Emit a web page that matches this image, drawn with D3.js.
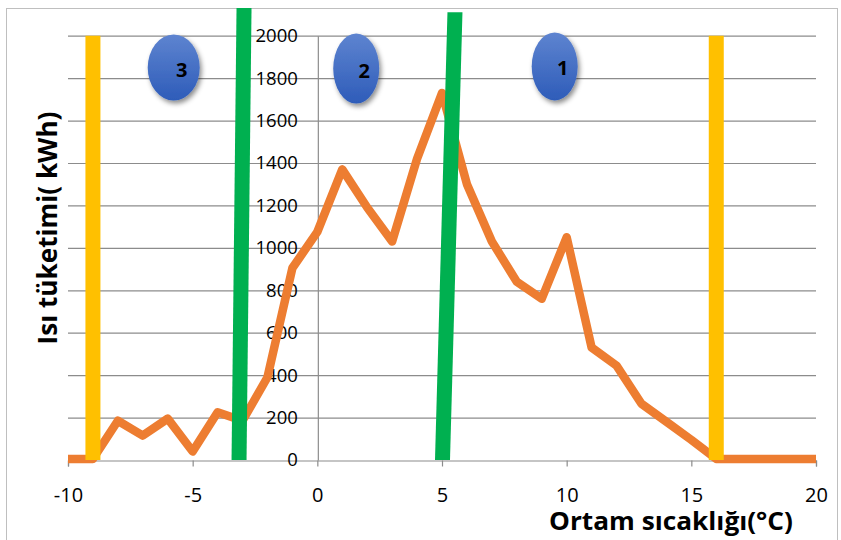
<!DOCTYPE html>
<html><head><meta charset="utf-8">
<script src="https://cdn.jsdelivr.net/npm/d3@7"></script>
<style>
html,body{margin:0;padding:0;background:#fff;}
svg{display:block;}
</style></head>
<body>
<svg id="chart" width="841" height="540"></svg>
<script>
// ---- data ----
const temps = [-10,-9,-8,-7,-6,-5,-4,-3,-2,-1,0,1,2,3,4,5,6,7,8,9,10,11,12,13,14,15,16,17,18,19,20];
const heat  = [5,5,185,115,195,40,225,185,390,905,1075,1370,1190,1030,1420,1730,1300,1030,840,760,1050,530,445,265,180,95,5,5,5,5,5];
const xTicks = [-10,-5,0,5,10,15,20];
const yTicks = [0,200,400,600,800,1000,1200,1400,1600,1800,2000];
const yellowLines = [-9, 16];
const greenLines = [ {x0:-3.14, x1:-2.94, top:2130}, {x0:5.02, x1:5.52, top:2110} ];
const regionLabels = [ {label:"3", x:-5.76, y:1850, rx:26, ry:33},
                       {label:"2", x:1.56,  y:1845, rx:23, ry:35},
                       {label:"1", x:9.52,  y:1855, rx:23, ry:34} ];
const xTitle = "Ortam sıcaklığı(°C)";
const yTitle = "Isı tüketimi( kWh)";

const svg = d3.select("#chart");
const x = d3.scaleLinear().domain([-10,20]).range([68,816]);
const y = d3.scaleLinear().domain([0,2000]).range([460,35.7]);

// border
svg.append("rect").attr("x",6.5).attr("y",8.5).attr("width",831).attr("height",560)
  .attr("fill","none").attr("stroke","#bfbfbf").attr("stroke-width",1);

const defs = svg.append("defs");
const grad = defs.append("linearGradient").attr("id","blueGrad").attr("x1",0).attr("y1",0).attr("x2",0).attr("y2",1);
grad.append("stop").attr("offset","0%").attr("stop-color","#5E84D0");
grad.append("stop").attr("offset","100%").attr("stop-color","#2E5CB9");
const filt = defs.append("filter").attr("id","shadow").attr("x","-50%").attr("y","-50%").attr("width","200%").attr("height","200%");
filt.append("feDropShadow").attr("dx",2).attr("dy",3).attr("stdDeviation",2.5).attr("flood-color","#000").attr("flood-opacity",0.45);

// gridlines
svg.append("g").selectAll("line").data(yTicks.filter(d=>d>0)).join("line")
  .attr("x1",x(-10)).attr("x2",x(20)).attr("y1",d=>y(d)+0.5).attr("y2",d=>y(d)+0.5)
  .attr("stroke","#8c8c8c").attr("stroke-width",1.2);

// x axis
const xAxis = d3.axisBottom(x).tickValues(xTicks).tickSize(6).tickFormat(d3.format("d"));
const gx = svg.append("g").attr("transform",`translate(0,${y(0)+0.5})`).call(xAxis);
gx.select(".domain").attr("stroke","#8c8c8c").attr("stroke-width",1.2);
gx.selectAll(".tick line").attr("stroke","#8c8c8c").attr("stroke-width",1.2);
gx.selectAll(".tick text").attr("font-family","'Open Sans', sans-serif").attr("font-size",20)
  .attr("fill","#000").attr("dy",0).attr("y",41).text(d=>String(d).replace("\u2212","-"));

// y axis at x=0
const yAxis = d3.axisLeft(y).tickValues(yTicks).tickSize(0).tickFormat(d3.format("d"));
const gy = svg.append("g").attr("transform",`translate(${x(0)+0.5},0)`).call(yAxis);
gy.select(".domain").attr("stroke","#8c8c8c").attr("stroke-width",1.2);
gy.selectAll(".tick text").attr("font-family","'Open Sans', sans-serif").attr("font-size",18.5)
  .attr("fill","#000").attr("x",-20);

// series
const line = d3.line().x((d,i)=>x(temps[i])).y(d=>y(d));
svg.append("path").datum(heat).attr("d",line).attr("fill","none")
  .attr("stroke","#ED7D31").attr("stroke-width",8.5).attr("stroke-linejoin","round");

// yellow lines
svg.append("g").selectAll("line").data(yellowLines).join("line")
  .attr("x1",d=>x(d)).attr("x2",d=>x(d)).attr("y1",y(0)).attr("y2",y(2000))
  .attr("stroke","#FFC000").attr("stroke-width",15);

// green lines
svg.append("g").selectAll("polygon").data(greenLines).join("polygon")
  .attr("points",d=>{const w=7.5;return [[x(d.x0)-w,y(0)],[x(d.x0)+w,y(0)],[x(d.x1)+w,y(d.top)],[x(d.x1)-w,y(d.top)]].map(p=>p.join(",")).join(" ");})
  .attr("fill","#00B050");

// region ellipses
const rg = svg.append("g").selectAll("g").data(regionLabels).join("g")
  .attr("transform",d=>`translate(${x(d.x)},${y(d.y)})`);
rg.append("ellipse").attr("rx",d=>d.rx).attr("ry",d=>d.ry).attr("fill","url(#blueGrad)").attr("filter","url(#shadow)");
rg.append("text").attr("x",8).attr("y",9).attr("text-anchor","middle")
  .attr("font-family","'Open Sans', sans-serif").attr("font-weight","bold").attr("font-size",20)
  .attr("fill","#000").text(d=>d.label);

// axis titles
svg.append("text").attr("x",671).attr("y",530).attr("text-anchor","middle")
  .attr("font-family","'Open Sans', sans-serif").attr("font-weight","bold").attr("font-size",25)
  .attr("textLength",244).attr("lengthAdjust","spacingAndGlyphs").attr("fill","#000").text(xTitle);
svg.append("text").attr("transform","translate(57,228) rotate(-90)").attr("text-anchor","middle")
  .attr("font-family","'Open Sans', sans-serif").attr("font-weight","bold").attr("font-size",26)
  .attr("textLength",233).attr("lengthAdjust","spacingAndGlyphs").attr("fill","#000").text(yTitle);
</script>
</body></html>
